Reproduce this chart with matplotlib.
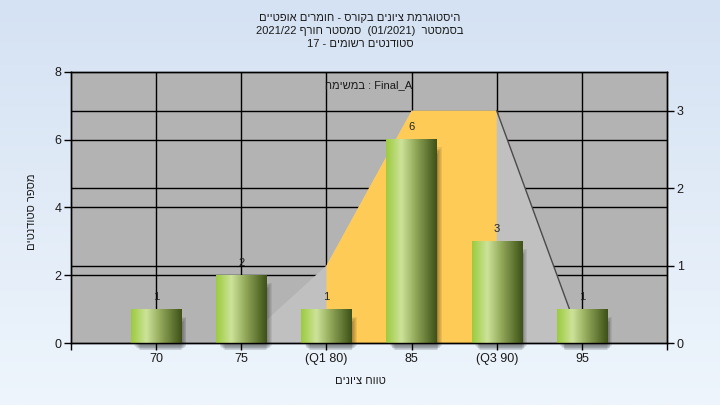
import matplotlib
matplotlib.use('Agg')
import matplotlib.pyplot as plt
import numpy as np
from matplotlib.colors import LinearSegmentedColormap
from matplotlib.patches import Rectangle

plt.rcParams['font.family'] = ['Liberation Sans', 'DejaVu Sans']

# data
grades = [70, 75, 80, 85, 90, 95]
counts = [1, 2, 1, 6, 3, 1]
tick_labels = ['70', '75', '(Q1 80)', '85', '(Q3 90)', '95']
# smoothed distribution on the right axis
dist_x = [75, 80, 85, 90, 95]
dist_y = [0, 1, 3, 3, 0]
q1, q3 = 80, 90

title_lines = ['היסטוגרמת ציונים בקורס - חומרים אופטיים',
               'בסמסטר  (01/2021)  סמסטר חורף 2021/22',
               'סטודנטים רשומים - 17']
task_text = 'Final_A : במשימה'
xlabel = 'טווח ציונים'
ylabel = 'מספר סטודנטים'


# matplotlib has no bidi, so put the hebrew words in visual order
def heb(s):
    out = []
    for tok in s.split(' ')[::-1]:
        if any('\u0590' <= c <= '\u05ff' for c in tok):
            tok = tok[::-1]
        out.append(tok)
    return ' '.join(out)


fig = plt.figure(figsize=(7.2, 4.05), dpi=100)

# background gradient
bg = fig.add_axes([0, 0, 1, 1], zorder=-5)
bg_cmap = LinearSegmentedColormap.from_list('bg', ['#eef5fc', '#d5e2f3'])
bg.imshow(np.linspace(0, 1, 256).reshape(-1, 1)[::-1], aspect='auto', cmap=bg_cmap,
          extent=[0, 1, 0, 1])
bg.axis('off')

ax = fig.add_axes([71 / 720, 62 / 405, 596 / 720, 271 / 405])
ax.set_facecolor('#b3b3b3')
ax2 = ax.twinx()
ax2.set_ylim(0, 3.5)
ax.set_xlim(65, 100)
ax.set_ylim(0, 8)

# grid lines (under the area shapes)
for g in grades:
    ax.axvline(g, color='black', lw=1, zorder=0.5)
for v in [2, 4, 6]:
    ax.axhline(v, color='black', lw=1, zorder=0.5)
for v in [1, 2, 3]:
    ax.plot([65, 100], [v, v], color='black', lw=1, zorder=0.5, transform=ax2.transData)

# distribution area + interquartile part
ax.fill(dist_x, dist_y, color='#c0c0c0', zorder=1, lw=0, transform=ax2.transData)
iq = [i for i, x in enumerate(dist_x) if q1 <= x <= q3]
qx = [q1] + [dist_x[i] for i in iq] + [q3]
qy = [0] + [dist_y[i] for i in iq] + [0]
ax.fill(qx, qy, color='#ffcb57', zorder=1.2, lw=0, transform=ax2.transData)
ax.plot(dist_x[-2:], dist_y[-2:], color='#4a4a4a', lw=1, zorder=1.3, transform=ax2.transData)

# bars with a cylinder gradient and a soft shadow
bar_cmap = LinearSegmentedColormap.from_list(
    'bar', [(0, '#9ccb3e'), (0.3, '#cde39a'), (0.6, '#8ea455'), (1, '#3e5118')])
grad = np.linspace(0, 1, 200).reshape(1, -1)
w = 2.95
sx, sy = 0.2, 0.1
for g, n in zip(grades, counts):
    for k in range(7):
        ax.add_patch(Rectangle((g - w / 2 + sx + 0.05 * k, -sy - 0.02 * k),
                               w - 0.1 * k + 0.1, n - 0.12 - 0.02 * k,
                               color='black', alpha=0.07, lw=0, zorder=2, clip_on=False))
    ax.imshow(grad, extent=[g - w / 2, g + w / 2, 0, n], aspect='auto', cmap=bar_cmap,
              zorder=3, interpolation='bicubic')
    ax.annotate(str(n), (g, n), xytext=(0, 9), textcoords='offset points', ha='center',
                va='center', fontsize=8, color='#222222', zorder=4)

ax.set_xlim(65, 100)
ax.set_ylim(0, 8)

ax.set_xticks(grades)
ax.set_xticklabels(tick_labels)
ax.set_xticks([65, 100], minor=True)
ax.set_yticks([0, 2, 4, 6, 8])
ax2.set_yticks([0, 1, 2, 3])
for a in (ax, ax2):
    a.tick_params(which='both', length=5, width=1, color='black', labelsize=9,
                  labelcolor='#1a1a1a', pad=2)
    for s in a.spines.values():
        s.set_color('black')
        s.set_linewidth(1)

ax.text(0.5, 0.952, heb(task_text), transform=ax.transAxes, ha='center', va='center',
        fontsize=8, color='#1a1a1a', zorder=5)

for i, line in enumerate(title_lines):
    fig.text(0.5, 1 - (18 + 13 * i) / 405, heb(line), ha='center', va='center',
             fontsize=8, color='#1a1a1a')
fig.text(0.5, 1 - 381 / 405, heb(xlabel), ha='center', va='center', fontsize=8,
         color='#1a1a1a')
fig.text(32 / 720, 1 - 212 / 405, heb(ylabel), ha='center', va='center', fontsize=8,
         rotation=90, color='#1a1a1a')

fig.savefig('out.png', dpi=100)
